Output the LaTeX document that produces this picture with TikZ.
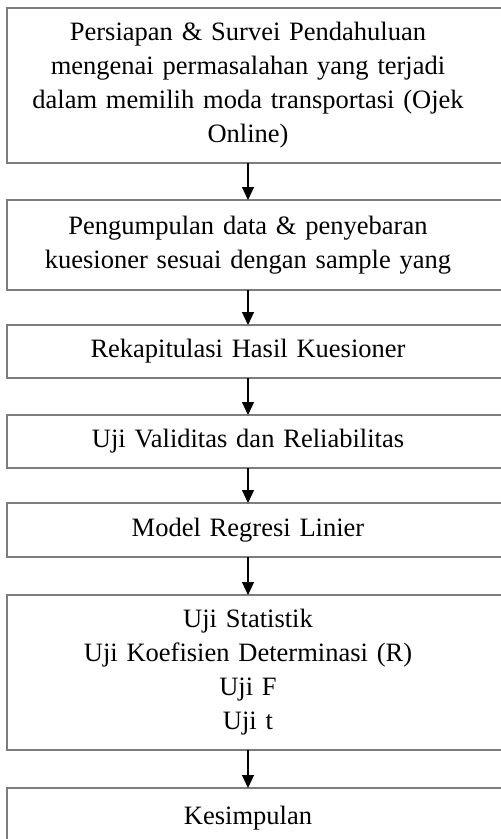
\documentclass[tikz,border=0pt]{standalone}
\usepackage{fontspec}
\setmainfont{Liberation Serif}
\usetikzlibrary{arrows.meta,positioning}
\definecolor{framegris}{RGB}{125,125,125}

\begin{document}
\begin{tikzpicture}[
  stepbox/.style={rectangle, minimum width=482pt, text width=474pt,
    align=center, inner sep=2pt, outer sep=0pt,
    font=\fontsize{26.5}{34}\selectfont},
  frame/.style={draw=framegris, line width=1.6pt},
  flow/.style={-{Triangle[length=13pt,width=12pt]}, line width=1.2pt, black}
]
  \useasboundingbox (0,0) rectangle (501pt,-839pt);
  \fill[white] (0,0) rectangle (501pt,-839pt);

  % Persiapan
  \node[stepbox, minimum height=155pt, anchor=north] (s1) at (248pt,-8pt)
    {Persiapan \& Survei Pendahuluan\\
     mengenai permasalahan yang terjadi\\
     dalam memilih moda transportasi (Ojek\\
     Online)};

  % Pengumpulan data
  \node[stepbox, minimum height=90pt, below=37pt of s1] (s2)
    {Pengumpulan data \& penyebaran\\
     kuesioner sesuai dengan sample yang};

  % Rekapitulasi
  \node[stepbox, minimum height=53pt, below=35pt of s2] (s3)
    {Rekapitulasi Hasil Kuesioner};

  % Uji validitas
  \node[stepbox, minimum height=53pt, below=37pt of s3] (s4)
    {Uji Validitas dan Reliabilitas};

  % Regresi
  \node[stepbox, minimum height=54pt, below=35pt of s4] (s5)
    {Model Regresi Linier};

  % Uji statistik
  \node[stepbox, minimum height=155pt, below=38pt of s5] (s6)
    {Uji Statistik\\
     Uji Koefisien Determinasi (R)\\
     Uji F\\
     Uji t};

  % Kesimpulan
  \node[stepbox, minimum height=60pt, below=38pt of s6] (s7)
    {Kesimpulan};

  % Frames (open to the right edge)
  \foreach \n in {s1,s2,s3,s4,s5,s6,s7}
    \draw[frame] (\n.north west) rectangle ([xshift=30pt]\n.south east);

  % Flow
  \foreach \a/\b in {s1/s2,s2/s3,s3/s4,s4/s5,s5/s6,s6/s7}
    \draw[flow] (\a) -- (\b);
\end{tikzpicture}
\end{document}
